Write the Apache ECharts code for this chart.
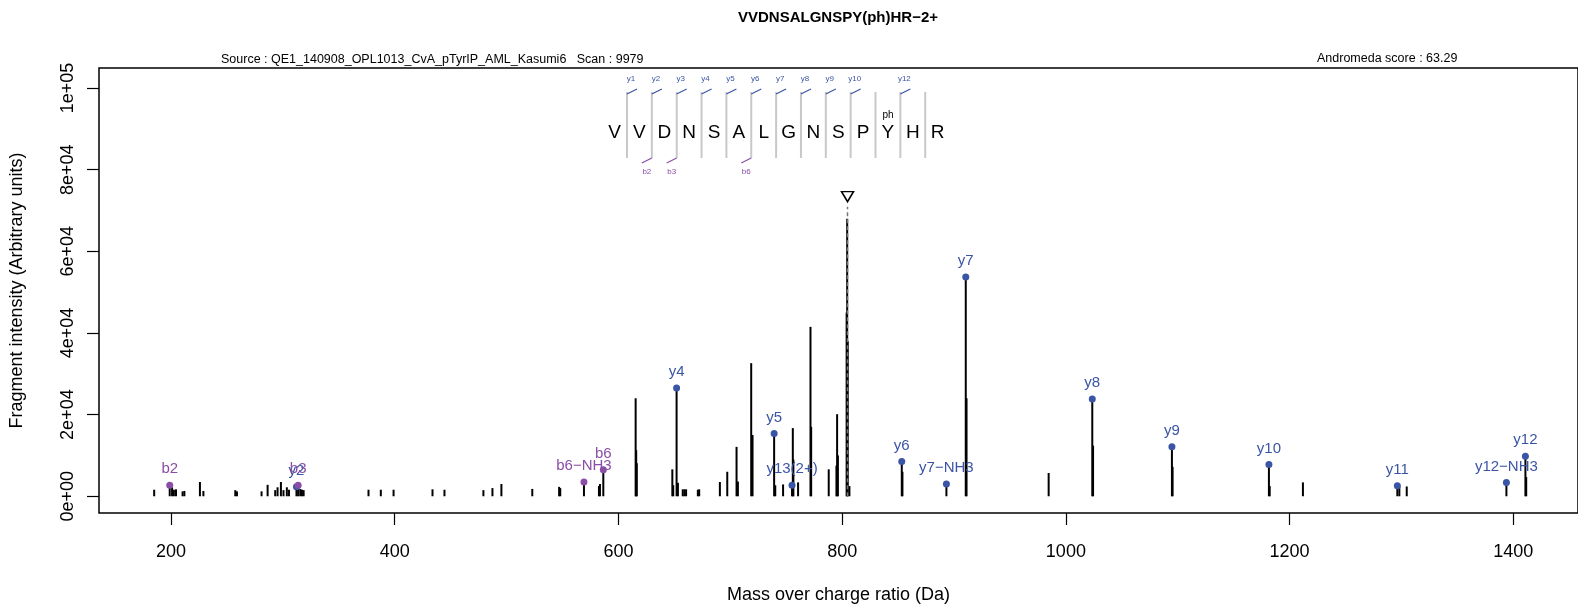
<!DOCTYPE html>
<html>
<head>
    <meta charset="utf-8" />
    <title>VVDNSALGNSPY(ph)HR-2+</title>
    <script src="https://cdn.jsdelivr.net/npm/echarts@6/dist/echarts.min.js"></script>
    <style>
        html, body { margin: 0; padding: 0; background: #fff; }
        #main { width: 1578px; height: 609px; }
    </style>
</head>
<body>
<div id="main"></div>
<script>
    // all fragment peaks (m/z, intensity)
    let peakMz = [
        185.0, 198.9, 201.0, 202.6, 204.5, 210.4, 212.0, 225.9, 229.0, 257.5, 259.0,
        281.0, 286.4, 293.2, 295.3, 298.3, 300.6, 303.6, 305.5, 312.2, 313.7, 315.6, 317.1, 318.6,
        376.6, 387.6, 399.0, 433.8, 444.5, 479.3, 487.4, 495.4, 523.0, 547.0, 548.0,
        569.2, 582.6, 583.5, 586.5, 615.4, 615.9, 616.4, 648.2, 649.0, 652.0, 653.2,
        657.5, 659.0, 660.5, 671.0, 672.2, 690.7, 697.3, 705.6, 706.8, 718.7, 719.9,
        739.2, 740.2, 747.2, 755.2, 755.9, 756.4, 760.6, 771.7, 772.3, 788.0, 794.9, 795.5, 796.2,
        804.0, 804.5, 805.0, 806.5, 853.3, 853.9, 893.2, 910.5, 911.2, 984.6,
        1023.6, 1024.3, 1094.8, 1095.4, 1181.5, 1182.2, 1211.9, 1296.3, 1298.1, 1304.7,
        1393.8, 1410.8, 1411.5
    ]
    let peakInt = [
        1600, 2700, 2200, 1600, 1700, 1200, 1300, 3500, 1300, 1500, 1200,
        1200, 2800, 1500, 2200, 3500, 1500, 2200, 1600, 2300, 2700, 1800, 1600, 1500,
        1600, 1600, 1600, 1700, 1600, 1500, 2000, 3000, 1800, 2300, 2000,
        3500, 2500, 3000, 6500, 24000, 11300, 8100, 6600, 2700, 26500, 3300,
        1700, 1700, 1700, 1600, 1700, 3500, 6000, 12100, 3600, 32600, 15000,
        15400, 2700, 2900, 2700, 16700, 9000, 3400, 41500, 17000, 6600, 7500, 20100, 10000,
        45000, 68000, 38000, 2500, 8500, 6000, 3000, 53700, 24000, 5700,
        23800, 12400, 12100, 7200, 7800, 2500, 3400, 2600, 2400, 2400,
        3400, 9800, 4700
    ]

    // annotated fragment ions
    let ionName = ['b2', 'y2', 'b3', 'b6\u2212NH3', 'b6', 'y4', 'y5', 'y13(2+)', 'y6', 'y7\u2212NH3',
        'y7', 'y8', 'y9', 'y10', 'y11', 'y12\u2212NH3', 'y12']
    let ionMz = [198.9, 312.2, 313.7, 569.2, 586.5, 652.0, 739.2, 755.2, 853.3, 893.2,
        910.5, 1023.6, 1094.8, 1181.5, 1296.3, 1393.8, 1410.8]
    let ionInt = [2700, 2300, 2700, 3500, 6500, 26500, 15400, 2700, 8500, 3000,
        53700, 23800, 12100, 7800, 2600, 3400, 9800]

    let precursorMz = 804.8
    let precursorMark = 73400

    let xTicks = [200, 400, 600, 800, 1000, 1200, 1400]
    let yTicks = [0, 20000, 40000, 60000, 80000, 100000]
    let yTickLabels = ['0e+00', '2e+04', '4e+04', '6e+04', '8e+04', '1e+05']

    let residues = ['V', 'V', 'D', 'N', 'S', 'A', 'L', 'G', 'N', 'S', 'P', 'Y', 'H', 'R']
    let modIndex = 11
    let yCuts = [1, 2, 3, 4, 5, 6, 7, 8, 9, 10, 12]
    let bCuts = [2, 3, 6]

    let colorY = '#3b55a6'
    let colorB = '#8a4ea6'
    let fontName = '"Liberation Sans", Arial, sans-serif'

    let chart = echarts.init(document.getElementById('main'))

    // peptide sequence drawing
    let pep = []
    let step = 24.85
    let cut0 = 627
    let letter0 = 614.6
    residues.forEach(function (r, i) {
        pep.push({type: 'text', x: letter0 + step * i, y: 133,
            style: {text: r, fontSize: 19, fontFamily: fontName, fill: '#000', align: 'center', verticalAlign: 'middle'}})
    })
    pep.push({type: 'text', x: letter0 + step * modIndex, y: 115,
        style: {text: 'ph', fontSize: 10, fontFamily: fontName, fill: '#000', align: 'center', verticalAlign: 'middle'}})
    for (let k = 1; k < residues.length; k++) {
        let x = cut0 + step * (k - 1)
        pep.push({type: 'line', shape: {x1: x, y1: 92, x2: x, y2: 158}, style: {stroke: '#c8c8c8', lineWidth: 2}})
    }
    yCuts.forEach(function (k) {
        let x = cut0 + step * (k - 1)
        pep.push({type: 'line', shape: {x1: x, y1: 94, x2: x + 10, y2: 89}, style: {stroke: colorY, lineWidth: 1.2}})
        pep.push({type: 'text', x: x + 4, y: 79,
            style: {text: 'y' + k, fontSize: 8, fontFamily: fontName, fill: colorY, align: 'center', verticalAlign: 'middle'}})
    })
    bCuts.forEach(function (k) {
        let x = cut0 + step * (k - 1)
        pep.push({type: 'line', shape: {x1: x, y1: 158, x2: x - 10, y2: 163}, style: {stroke: colorB, lineWidth: 1.2}})
        pep.push({type: 'text', x: x - 5, y: 172,
            style: {text: 'b' + k, fontSize: 8, fontFamily: fontName, fill: colorB, align: 'center', verticalAlign: 'middle'}})
    })
    pep.push({type: 'text', x: 838, y: 18,
        style: {text: 'VVDNSALGNSPY(ph)HR\u22122+', fontSize: 15, fontWeight: 'bold',
            fontFamily: fontName, fill: '#000', align: 'center', verticalAlign: 'middle'}})
    pep.push({type: 'text', x: 221, y: 60,
        style: {text: 'Source : QE1_140908_OPL1013_CvA_pTyrIP_AML_Kasumi6   Scan : 9979', fontSize: 12.5,
            fontFamily: fontName, fill: '#000', align: 'left', verticalAlign: 'middle'}})
    pep.push({type: 'text', x: 1317, y: 59,
        style: {text: 'Andromeda score : 63.29', fontSize: 12.5,
            fontFamily: fontName, fill: '#000', align: 'left', verticalAlign: 'middle'}})

    chart.setOption({
        animation: false,
        textStyle: {fontFamily: fontName},
        grid: {
            left: 98, right: 0, top: 68, bottom: 96,
            show: true, borderColor: '#000', borderWidth: 1.5, backgroundColor: 'transparent',
        },
        xAxis: {
            type: 'value',
            min: 135.68,
            max: 1457.8,
            name: 'Mass over charge ratio (Da)',
            nameLocation: 'middle',
            nameGap: 73,
            nameTextStyle: {fontSize: 18, color: '#000'},
            axisLine: {show: false, onZero: false},
            splitLine: {show: false},
            axisTick: {show: true, inside: false, length: 12, lineStyle: {color: '#000', width: 1.2}, customValues: xTicks},
            axisLabel: {
                fontSize: 18, color: '#000', margin: 30, customValues: xTicks,
                formatter: function (v) { return String(v) }
            },
        },
        yAxis: {
            type: 'value',
            min: -4100,
            max: 104900,
            name: 'Fragment intensity (Arbitrary units)',
            nameLocation: 'middle',
            nameGap: 73,
            nameRotate: 90,
            nameTextStyle: {fontSize: 18, color: '#000'},
            axisLine: {show: false, onZero: false},
            splitLine: {show: false},
            axisTick: {show: true, inside: false, length: 12, lineStyle: {color: '#000', width: 1.2}, customValues: yTicks},
            axisLabel: {
                fontSize: 18, color: '#000', margin: 22, rotate: 90, customValues: yTicks,
                formatter: function (v) {
                    let i = yTicks.indexOf(v)
                    return i >= 0 ? yTickLabels[i] : ''
                }
            },
        },
        graphic: pep,
        series: [
            {
                type: 'custom',
                data: peakMz.map(function (m, i) { return [m, peakInt[i]] }),
                renderItem: function (params, api) {
                    let p0 = api.coord([api.value(0), 0])
                    let p1 = api.coord([api.value(0), api.value(1)])
                    return {
                        type: 'line',
                        shape: {x1: p0[0], y1: p0[1], x2: p1[0], y2: p1[1]},
                        style: {stroke: '#000', lineWidth: 2},
                    }
                },
                z: 2,
            },
            {
                type: 'line',
                data: [[precursorMz, 0], [precursorMz, 70900]],
                symbol: 'none',
                lineStyle: {color: '#777', width: 1.5, type: [4, 3]},
                z: 3,
            },
            {
                type: 'scatter',
                data: [[precursorMz, precursorMark]],
                symbol: 'triangle',
                symbolRotate: 180,
                symbolSize: [12, 10],
                itemStyle: {color: '#fff', borderColor: '#000', borderWidth: 1.5, opacity: 1},
                z: 4,
            },
            {
                type: 'scatter',
                data: ionMz.map(function (m, i) {
                    let c = ionName[i].charAt(0) === 'b' ? colorB : colorY
                    return {
                        name: ionName[i],
                        value: [m, ionInt[i]],
                        itemStyle: {color: c, opacity: 1},
                        label: {color: c},
                    }
                }),
                symbolSize: 7,
                label: {
                    show: true,
                    position: 'top',
                    distance: 5,
                    fontSize: 15,
                    formatter: '{b}',
                },
                z: 5,
            },
        ]
    })
</script>
</body>
</html>
